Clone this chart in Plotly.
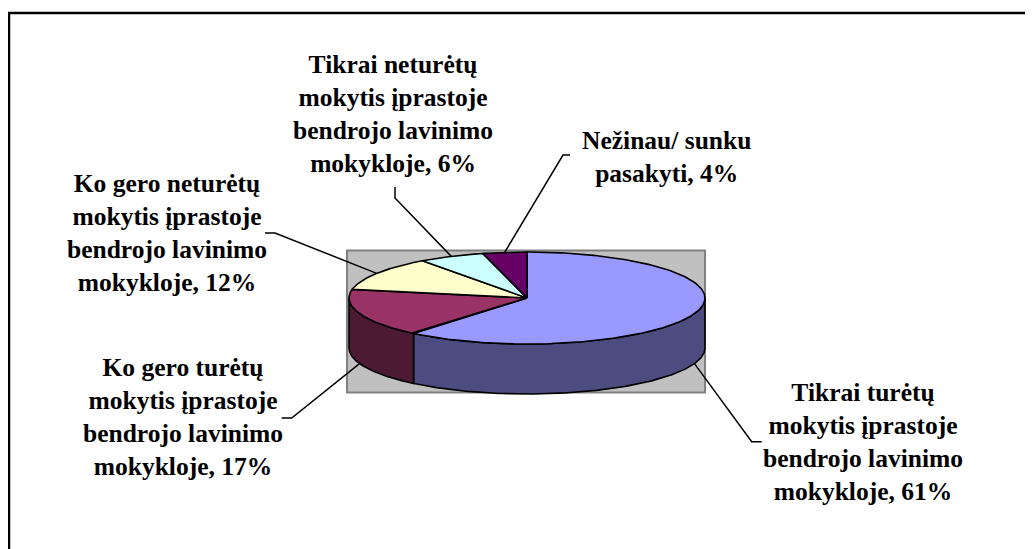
import numpy as np
import plotly.graph_objects as go

# ---- data ----
labels = [
    "Tikrai turėtų<br>mokytis įprastoje<br>bendrojo lavinimo<br>mokykloje",
    "Ko gero turėtų<br>mokytis įprastoje<br>bendrojo lavinimo<br>mokykloje",
    "Ko gero neturėtų<br>mokytis įprastoje<br>bendrojo lavinimo<br>mokykloje",
    "Tikrai neturėtų<br>mokytis įprastoje<br>bendrojo lavinimo<br>mokykloje",
    "Nežinau/ sunku<br>pasakyti",
]
values = [61, 17, 12, 6, 4]
top_colors = ["#9999FF", "#993366", "#FFFFCC", "#CCFFFF", "#660066"]
side_colors = ["#4C4C80", "#4D1A33", "#80806A", "#6A8080", "#330033"]

# ---- layout geometry (page pixel space; body has an 8px margin) ----
W, H = 1033, 549
OFF = 8
cx, cy, rx, ry, depth = 527, 298, 178, 46, 50
label_pos = [(863, 442), (183, 417), (167, 233), (393, 114), (666, 157)]
elbows = [
    [(751.7, 441.7), (761.7, 441.7)],
    [(291.7, 418), (281.7, 418)],
    [(275, 233), (265, 233)],
    [(395, 198), (395, 187)],
    [(563, 155), (570, 155)],
]
FONT = dict(family="Liberation Serif, Times New Roman, serif", size=25.5, color="black")


def pt(deg, dy=0.0):
    t = np.radians(deg)
    return cx + rx * np.sin(t), cy - ry * np.cos(t) + dy


def arc(a, b, dy=0.0, n=200):
    ts = np.linspace(a, b, n)
    xs, ys = pt(ts, dy)
    return list(xs), list(ys)


total = float(sum(values))
bounds = np.concatenate([[0], np.cumsum(values)]) / total * 360.0

fig = go.Figure()

# side faces (front half only: 90..270 deg clockwise from top)
for i in range(len(values)):
    s, e = max(bounds[i], 90), min(bounds[i + 1], 270)
    if s < e:
        x1, y1 = arc(s, e)
        x2, y2 = arc(e, s, depth)
        fig.add_trace(go.Scatter(
            x=x1 + x2 + [x1[0]], y=y1 + y2 + [y1[0]], mode="lines", fill="toself",
            fillcolor=side_colors[i], line=dict(color="black", width=1.6),
            hoverinfo="skip", showlegend=False))

# top faces
for i in range(len(values)):
    xa, ya = arc(bounds[i], bounds[i + 1])
    fig.add_trace(go.Scatter(
        x=[cx] + xa + [cx], y=[cy] + ya + [cy], mode="lines", fill="toself",
        fillcolor=top_colors[i], line=dict(color="black", width=1.6),
        hoverinfo="skip", showlegend=False))

# leader lines and labels
for i in range(len(values)):
    mid = (bounds[i] + bounds[i + 1]) / 2
    dy = depth if 90 < mid < 270 else 0
    ax_, ay_ = pt(mid, dy)
    pts = [(float(ax_), float(ay_))] + elbows[i]
    fig.add_trace(go.Scatter(
        x=[p[0] for p in pts], y=[p[1] for p in pts], mode="lines",
        line=dict(color="black", width=1.5), hoverinfo="skip", showlegend=False))
    fig.add_annotation(
        x=label_pos[i][0], y=label_pos[i][1], xref="x", yref="y",
        text="<b>%s, %d%%</b>" % (labels[i], round(values[i] / total * 100)),
        showarrow=False, font=FONT, align="center", xanchor="center", yanchor="middle")

shapes = [
    dict(type="rect", xref="x", yref="y", x0=347, x1=705, y0=250.5, y1=392.5,
         fillcolor="#C0C0C0", line=dict(color="#808080", width=2), layer="below"),
    dict(type="line", xref="x", yref="y", x0=9, x1=9, y0=12, y1=H,
         line=dict(color="black", width=2.5)),
    dict(type="line", xref="x", yref="y", x0=8, x1=W, y0=13, y1=13,
         line=dict(color="black", width=2.5)),
]

fig.update_layout(
    width=W - OFF, height=H - OFF, margin=dict(l=0, r=0, t=0, b=0),
    paper_bgcolor="white", plot_bgcolor="white", shapes=shapes,
    xaxis=dict(range=[OFF, W], visible=False, fixedrange=True),
    yaxis=dict(range=[H, OFF], visible=False, fixedrange=True),
)

fig.write_html("out.html")
